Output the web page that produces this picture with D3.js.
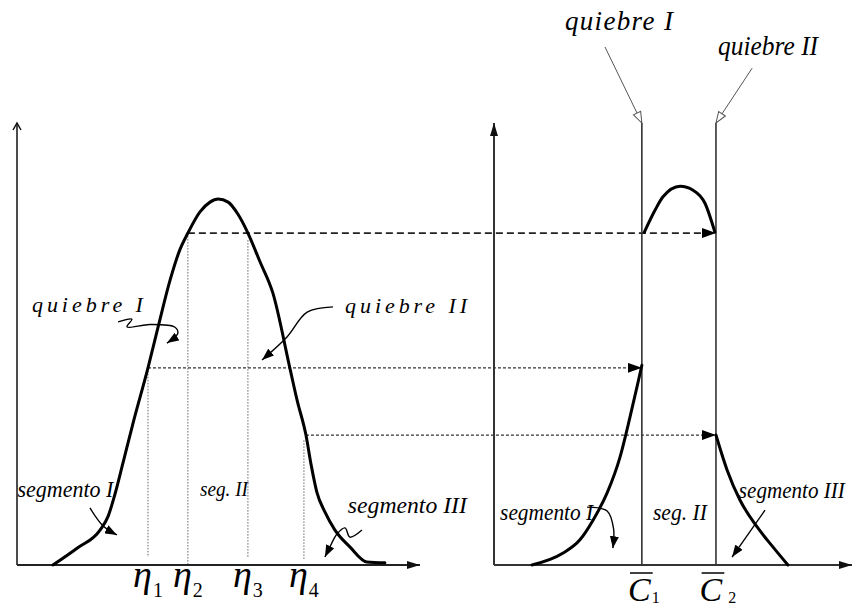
<!DOCTYPE html>
<html>
<head>
<meta charset="utf-8">
<script src="https://cdn.jsdelivr.net/npm/d3@7"></script>
<style>
  html, body { margin: 0; padding: 0; background: #fff; }
  svg { display: block; }
  text { font-family: "Liberation Serif", "Times New Roman", serif; fill: #000; }
</style>
</head>
<body>
<svg id="chart" width="853" height="609"></svg>
<script>
// ---- Left panel: density profile over the η axis ----
const densityX = [8.9, 14.9, 20.6, 22.6, 24.3, 26.3, 28.8, 32.5, 35.0, 38.0, 40.4, 42.4, 45.4, 47.9, 49.9,
                  52.4, 54.8, 57.3, 60.3, 63.5, 67.7, 69.5, 71.7, 73.0, 74.4, 76.4, 78.9, 82.6, 86.8, 91.3];
const densityY = [0, 3.8, 7.9, 11.0, 16.0, 23.1, 32.1, 44.6, 53.8, 64.5, 71.3, 75.1, 79.9, 82.1, 82.8,
                  82.1, 79.4, 75.1, 68.6, 61.5, 44.6, 37.3, 29.4, 22.6, 16.5, 12.0, 7.9, 4.1, 0.7, 0.5];

// Break points η1..η4 and the heights they are projected at
const etaValues = [32.5, 42.4, 57.3, 71.2];
const etaSubs = ["1", "2", "3", "4"];
const etaLineTop = [44.6, 75.1, 73.5, 28.2];
const etaLineBottom = [1.8, 0, 1.8, 1.2];

// Projected levels: start x on left panel, end x on right panel, height
const levelFrom = [42.4, 32.5, 71.7];
const levelTo = [62.0, 41.3, 62.0];
const levelHeight = [75.1, 44.6, 29.4];

// ---- Right panel: three segments between the two breaks ----
const cBarValues = [41.3, 62.0];
const cBarSubs = ["1", "2"];
const segIX = [10.6, 19.3, 24.0, 27.7, 31.6, 35.2, 38.0, 40.2, 41.3];
const segIY = [0, 2.7, 5.7, 10.2, 16.3, 24.4, 33.5, 41.2, 45.2];
const segIIX = [42.0, 45.0, 47.2, 52.0, 55.6, 58.9, 61.7];
const segIIY = [75.3, 80.3, 83.3, 85.7, 84.8, 81.9, 75.3];
const segIIIX = [62.0, 65.1, 68.7, 73.5, 77.9, 82.1];
const segIIIY = [29.4, 21.5, 14.7, 8.6, 4.1, 0];

// ---- Scales ----
const y = d3.scaleLinear().domain([0, 100]).range([565, 123]);
const xL = d3.scaleLinear().domain([0, 100]).range([17, 420]);
const xR = d3.scaleLinear().domain([0, 100]).range([494, 852]);

const svg = d3.select("#chart");
const defs = svg.append("defs");

function marker(id, d, w, h, refX, fill, stroke, sw) {
  defs.append("marker")
    .attr("id", id)
    .attr("markerUnits", "userSpaceOnUse")
    .attr("viewBox", `0 0 ${w} ${h}`)
    .attr("markerWidth", w).attr("markerHeight", h)
    .attr("refX", refX).attr("refY", h / 2)
    .attr("orient", "auto")
    .append("path")
    .attr("d", d)
    .attr("fill", fill)
    .attr("stroke", stroke || "none")
    .attr("stroke-width", sw || 0);
}
marker("headLevel", "M0,0 L14,5 L0,10 Z", 14, 10, 14, "#000");
marker("headAxis", "M0,0 L13,4 L0,8 Z", 13, 8, 13, "#111");
marker("headNote", "M0,0 L12,4.5 L0,9 Z", 12, 9, 12, "#000");
marker("headOpen", "M1,1 L12,5 L1,9 Z", 14, 10, 12, "#fff", "#555", 1);
marker("headChevron", "M1,1 L8,5 L1,9", 10, 10, 8, "none", "#111", 1.5);

// smooth curves for the profiles, Catmull-Rom for the hand-drawn pointers
const curveL = d3.line().x((d) => xL(d[0])).y((d) => y(d[1])).curve(d3.curveMonotoneX);
const curveR = d3.line().x((d) => xR(d[0])).y((d) => y(d[1])).curve(d3.curveMonotoneX);
const lineL = d3.line().x((d) => xL(d[0])).y((d) => y(d[1])).curve(d3.curveCatmullRom.alpha(0.5));
const lineR = d3.line().x((d) => xR(d[0])).y((d) => y(d[1])).curve(d3.curveCatmullRom.alpha(0.5));
const zip = (xs, ys) => xs.map((v, i) => [v, ys[i]]);

// ---- Guide lines (drawn first, under the curves) ----
const g = svg.append("g");

// vertical dotted lines at η1..η4
g.selectAll(".eta-line")
  .data(etaValues)
  .join("line")
  .attr("x1", (d) => xL(d)).attr("x2", (d) => xL(d))
  .attr("y1", (d, i) => y(etaLineTop[i])).attr("y2", (d, i) => y(etaLineBottom[i]))
  .attr("stroke", "#666").attr("stroke-width", 1)
  .attr("stroke-dasharray", "1.5,1.5");

// projected levels carried across to the right panel
g.selectAll(".level")
  .data(levelHeight)
  .join("line")
  .attr("x1", (d, i) => xL(levelFrom[i]))
  .attr("x2", (d, i) => xR(levelTo[i]))
  .attr("y1", (d) => y(d)).attr("y2", (d) => y(d))
  .attr("stroke", (d, i) => (i === 0 ? "#222" : "#333"))
  .attr("stroke-width", (d, i) => (i === 0 ? 1.8 : 1.3))
  .attr("stroke-dasharray", (d, i) => (i === 0 ? "7,4" : "3,2"))
  .attr("marker-end", "url(#headLevel)");

// ---- Axes ----
// left panel
g.append("line")
  .attr("x1", xL(0)).attr("x2", xL(0)).attr("y1", y(0)).attr("y2", y(100))
  .attr("stroke", "#111").attr("stroke-width", 1.5)
  .attr("marker-end", "url(#headChevron)");
g.append("line")
  .attr("x1", xL(0)).attr("x2", xL(100)).attr("y1", y(0)).attr("y2", y(0))
  .attr("stroke", "#222").attr("stroke-width", 2)
  .attr("marker-end", "url(#headAxis)");
// right panel
g.append("line")
  .attr("x1", xR(0)).attr("x2", xR(0)).attr("y1", y(0)).attr("y2", y(100))
  .attr("stroke", "#333").attr("stroke-width", 2)
  .attr("marker-end", "url(#headAxis)");
g.append("line")
  .attr("x1", xR(0)).attr("x2", xR(100)).attr("y1", y(0)).attr("y2", y(0))
  .attr("stroke", "#333").attr("stroke-width", 2)
  .attr("marker-end", "url(#headAxis)");
// break lines C̄1, C̄2
g.selectAll(".cbar")
  .data(cBarValues)
  .join("line")
  .attr("x1", (d) => xR(d)).attr("x2", (d) => xR(d))
  .attr("y1", y(0)).attr("y2", y(100))
  .attr("stroke", "#333").attr("stroke-width", 1.6);

// ---- Curves ----
const curves = svg.append("g")
  .attr("fill", "none").attr("stroke", "#000").attr("stroke-width", 3)
  .attr("stroke-linecap", "round").attr("stroke-linejoin", "round");
curves.append("path").attr("d", curveL(zip(densityX, densityY)));
curves.append("path").attr("d", curveR(zip(segIX, segIY)));
curves.append("path").attr("d", curveR(zip(segIIX, segIIY)));
curves.append("path").attr("d", curveR(zip(segIIIX, segIIIY)));

// ---- Annotation pointers ----
const pointersL = [
  [[25.1, 55.0], [28.5, 55.6], [27.3, 53.9], [33.0, 54.4], [39.2, 53.8], [39.9, 52.4], [37.2, 50.2]],
  [[78.4, 58.4], [72.0, 57.2], [67.0, 51.6], [60.8, 46.4]],
  [[18.1, 12.9], [21.3, 8.9], [24.8, 6.8]],
  [[85.6, 7.9], [82.6, 6.3], [81.4, 8.4], [79.4, 7.0], [77.4, 3.6], [76.4, 1.8]]
];
const pointersR = [
  [[26.0, 13.1], [31.6, 12.2], [33.4, 8.2], [33.2, 3.8]],
  [[75.7, 12.4], [66.5, 1.8]]
];
const notes = svg.append("g")
  .attr("fill", "none").attr("stroke", "#000").attr("stroke-width", 1.4);
pointersL.forEach((p) => notes.append("path").attr("d", lineL(p)).attr("marker-end", "url(#headNote)"));
pointersR.forEach((p) => notes.append("path").attr("d", lineR(p)).attr("marker-end", "url(#headNote)"));

// open-headed pointers from the top labels to the break lines
const topPointers = [
  [[31.0, 117.2], [cBarValues[0], 100]],
  [[72.1, 112.4], [cBarValues[1], 100]]
];
topPointers.forEach((p) => {
  svg.append("line")
    .attr("x1", xR(p[0][0])).attr("y1", y(p[0][1]))
    .attr("x2", xR(p[1][0])).attr("y2", y(p[1][1]))
    .attr("stroke", "#555").attr("stroke-width", 1)
    .attr("marker-end", "url(#headOpen)");
});

// ---- Text labels ----
const labels = [
  { text: "quiebre I", sx: xL, x: 3.7, y: 57.2, w: 111, size: 22, adj: "spacing" },
  { text: "quiebre II", sx: xL, x: 81.4, y: 57.0, w: 122, size: 22, adj: "spacing" },
  { text: "segmento I", sx: xL, x: 0.1, y: 15.4, w: 96, size: 23, adj: "spacingAndGlyphs" },
  { text: "seg. II", sx: xL, x: 45.4, y: 15.6, w: 48, size: 21, adj: "spacingAndGlyphs" },
  { text: "segmento III", sx: xL, x: 82.1, y: 11.8, w: 119, size: 23, adj: "spacingAndGlyphs" },
  { text: "quiebre I", sx: xR, x: 19.8, y: 121.0, w: 108, size: 27, adj: "spacing" },
  { text: "quiebre II", sx: xR, x: 62.6, y: 115.4, w: 100, size: 27, adj: "spacingAndGlyphs" },
  { text: "segmento I", sx: xR, x: 1.7, y: 10.2, w: 93, size: 23, adj: "spacingAndGlyphs" },
  { text: "seg. II", sx: xR, x: 44.4, y: 10.2, w: 54, size: 23, adj: "spacingAndGlyphs" },
  { text: "segmento III", sx: xR, x: 68.4, y: 15.2, w: 106, size: 23, adj: "spacingAndGlyphs" }
];
svg.append("g").selectAll("text")
  .data(labels)
  .join("text")
  .attr("x", (d) => d.sx(d.x))
  .attr("y", (d) => y(d.y))
  .attr("font-size", (d) => d.size)
  .attr("font-style", "italic")
  .attr("textLength", (d) => d.w)
  .attr("lengthAdjust", (d) => d.adj)
  .text((d) => d.text);

// η tick labels
const etaText = svg.append("g").selectAll("text")
  .data(etaValues)
  .join("text")
  .attr("x", (d) => xL(d))
  .attr("y", y(0) + 22)
  .attr("text-anchor", "middle");
etaText.append("tspan").attr("font-size", 38).attr("font-style", "italic").text("η");
etaText.append("tspan").attr("font-size", 20).attr("dy", 10).attr("dx", 1)
  .text((d, i) => etaSubs[i]);

// C̄ tick labels with overbar
const cText = svg.append("g").selectAll("text")
  .data(cBarValues)
  .join("text")
  .attr("x", (d) => xR(d) + 2)
  .attr("y", y(0) + 36)
  .attr("text-anchor", "middle");
cText.append("tspan").attr("font-size", 34).attr("font-style", "italic").text("C");
cText.append("tspan").attr("font-size", 16).attr("dy", 2).attr("dx", (d, i) => (i === 0 ? 1 : 6))
  .text((d, i) => cBarSubs[i]);
cText.each(function () {
  const ext = this.getExtentOfChar(0);
  d3.select(this.parentNode).append("line")
    .attr("x1", ext.x + 2).attr("x2", ext.x + ext.width + 2)
    .attr("y1", y(0) + 8).attr("y2", y(0) + 8)
    .attr("stroke", "#000").attr("stroke-width", 1.5);
});
</script>
</body>
</html>
